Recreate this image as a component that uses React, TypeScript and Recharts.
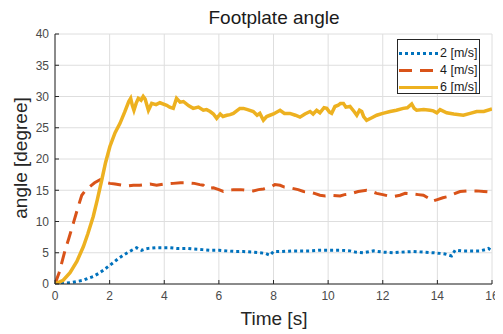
import React from "react";
import { LineChart, Line, XAxis, YAxis, CartesianGrid, Legend, Label } from "recharts";

// time [s] and angle [degree] per speed
const t2 = [0,0.3,0.55,0.8,1.04,1.2,1.4,1.6,1.77,1.95,2.13,2.3,2.5,2.65,2.81,2.99,3.17,3.3,3.42,3.7,3.97,4.2,4.45,4.8,5.06,5.4,5.68,6.0,6.29,6.6,6.9,7.2,7.5,7.7,7.87,8.0,8.3,8.73,9.0,9.34,9.7,9.95,10.2,10.44,10.8,11.0,11.29,11.66,12.0,12.39,12.7,13.12,13.5,13.85,14.1,14.28,14.52,14.65,14.9,15.2,15.56,15.75,15.87,16.0];
const v2 = [0,0.1,0.2,0.4,0.6,0.9,1.2,1.7,2.2,2.8,3.4,4.0,4.6,5.0,5.4,5.8,5.4,5.6,5.7,5.8,5.8,5.8,5.7,5.7,5.6,5.5,5.4,5.4,5.3,5.2,5.2,5.1,5.0,4.9,4.6,5.2,5.2,5.3,5.3,5.3,5.4,5.4,5.4,5.4,5.3,5.1,5.0,5.3,5.1,5.0,5.1,5.2,5.1,5.0,4.9,4.8,4.5,5.4,5.3,5.3,5.3,5.5,5.7,5.3];

const t4 = [0,0.15,0.37,0.5,0.67,0.85,0.98,1.1,1.28,1.45,1.65,1.8,2.01,2.2,2.5,2.7,2.87,3.1,3.3,3.48,3.72,4.0,4.33,4.6,4.82,5.1,5.3,5.43,5.55,5.8,6.0,6.16,6.35,6.53,6.8,7.0,7.26,7.45,7.63,7.9,8.05,8.24,8.4,8.6,8.9,9.1,9.34,9.5,9.7,9.9,10.1,10.44,10.6,10.8,11.1,11.41,11.6,11.78,12.0,12.2,12.39,12.63,12.82,13.1,13.3,13.49,13.65,13.79,14.0,14.2,14.4,14.6,14.83,15.1,15.44,15.7,15.93,16];
const v4 = [0,1.8,5.4,7.2,9.7,12.4,14.2,14.9,15.6,16.2,16.7,16.3,16.1,16,15.8,15.7,15.8,15.8,15.9,16,15.8,16,16.1,16.2,16.2,16.1,15.9,15.8,15.3,15.4,15.1,14.8,15.0,15.1,15.1,15,14.9,15.1,15.2,15.5,15.9,15.8,15.5,15.4,15.1,14.8,14.7,14.5,14.2,14.1,14.2,14.1,14.3,14.4,14.8,15,14.8,14.5,14.3,14.1,14.0,14.2,14.5,14.4,14.3,14.2,13.8,13.2,13.5,13.8,14.0,14.4,14.8,14.9,14.9,14.8,14.7,14.8];

const t6 = [0,0.3,0.55,0.8,1.04,1.2,1.4,1.55,1.71,1.85,2.01,2.2,2.38,2.55,2.7,2.77,2.83,2.89,2.97,3.05,3.15,3.23,3.3,3.38,3.42,3.54,3.7,3.84,4.09,4.2,4.33,4.45,4.58,4.7,4.9,5.06,5.25,5.43,5.55,5.68,5.8,5.92,6.05,6.15,6.29,6.41,6.53,6.77,6.9,7.05,7.26,7.4,7.5,7.63,7.75,7.87,8.0,8.24,8.4,8.6,8.8,8.97,9.15,9.34,9.45,9.58,9.7,9.85,9.95,10.05,10.13,10.25,10.37,10.45,10.56,10.65,10.8,10.95,11.05,11.15,11.23,11.3,11.41,11.6,11.78,12.0,12.27,12.5,12.75,12.9,13.06,13.15,13.24,13.5,13.73,13.85,13.98,14.1,14.34,14.6,14.95,15.2,15.44,15.7,16];
const v6 = [0,0.6,1.8,3.6,6,8,10.8,13.5,16.6,19.4,22,24.2,25.7,27.5,29.2,29.7,28.6,27.8,28.9,29.7,29.4,30,29.6,28.4,27.8,28.9,28.7,29,28.6,28.3,28.1,29.7,29.1,29.2,28.5,28.1,28.3,27.8,27.9,27.6,27.2,26.5,27.2,26.8,27,27.1,27.3,28.1,28.1,27.9,27.6,27,27.3,26.2,26.8,27,27.2,27.8,27.3,27.3,27,26.7,27.2,27.6,27.2,27.8,27.4,28.2,28.1,27.5,27.3,28.4,28.6,28.9,28.9,28.3,28.4,27.6,27,27.8,27.6,26.8,26.2,26.6,27,27.3,27.6,27.8,28.1,28.2,28.8,28.1,27.8,27.9,27.8,27.7,27.4,27.9,27.4,27.2,27,27.3,27.6,27.6,28];

const xTicks = [0,2,4,6,8,10,12,14,16];
const yTicks = [0,5,10,15,20,25,30,35,40];

const toRows = (ts: number[], vs: number[]) => ts.map((t, i) => ({ t, v: vs[i] }));

const series = [
  { name: "2 [m/s]", data: toRows(t2, v2), color: "#0072BD", dash: "3 3", width: 3 },
  { name: "4 [m/s]", data: toRows(t4, v4), color: "#D95319", dash: "13 8", width: 3 },
  { name: "6 [m/s]", data: toRows(t6, v6), color: "#EDB120", dash: undefined as string | undefined, width: 3.5 },
];

const FONT = "'Liberation Sans', Arial, Helvetica, sans-serif";
const TICK = { fill: "#4a4a4a", fontSize: 12, fontFamily: FONT };

const LegendBox = () => (
  <div
    style={{
      border: "1px solid #262626",
      background: "#fff",
      boxSizing: "border-box",
      width: 83,
      height: 55,
      paddingTop: 5,
      fontFamily: FONT,
      fontSize: 12.5,
      color: "#1a1a1a",
      whiteSpace: "nowrap",
      overflow: "hidden",
    }}
  >
    {series.map((s) => (
      <div key={s.name} style={{ display: "flex", alignItems: "center", height: 17 }}>
        <svg width={42} height={17} style={{ display: "block", flex: "none" }}>
          <line x1={1} y1={8.5} x2={40} y2={8.5} stroke={s.color} strokeWidth={3} strokeDasharray={s.dash} />
        </svg>
        <span style={{ lineHeight: "17px" }}>{s.name}</span>
      </div>
    ))}
  </div>
);

export default function App() {
  return (
    <LineChart width={495} height={326} margin={{ top: 26, right: 11, bottom: 10, left: 0 }}>
      <CartesianGrid stroke="#dedede" strokeWidth={1} />
      <XAxis
        type="number"
        dataKey="t"
        domain={[0, 16]}
        ticks={xTicks}
        allowDataOverflow
        height={40}
        stroke="#262626"
        tick={TICK}
        tickSize={-4}
        tickMargin={11}
      >
        <Label
          content={() => (
            <text x={266} y={317} textAnchor="middle" fontSize={19} fontFamily={FONT} fill="#262626">
              Time [s]
            </text>
          )}
        />
      </XAxis>
      <YAxis
        type="number"
        domain={[0, 40]}
        ticks={yTicks}
        allowDataOverflow
        width={47}
        stroke="#262626"
        tick={TICK}
        tickSize={-4}
        tickMargin={10}
      >
        <Label
          content={() => (
            <g>
              <text
                x={19}
                y={150}
                transform="rotate(-90 19 150)"
                textAnchor="middle"
                fontSize={19}
                fontFamily={FONT}
                fill="#262626"
              >
                angle [degree]
              </text>
              <text x={266} y={16} textAnchor="middle" fontSize={19} fontFamily={FONT} fill="#1a1a1a">
                Footplate angle
              </text>
            </g>
          )}
        />
      </YAxis>
      <Legend
        layout="horizontal"
        align="center"
        verticalAlign="middle"
        content={() => <LegendBox />}
        wrapperStyle={{ position: "absolute", left: 389, top: 31, width: 83, height: 55, bottom: "auto", right: "auto" }}
      />
      {series.map((s) => (
        <Line
          key={s.name}
          data={s.data}
          dataKey="v"
          name={s.name}
          type="linear"
          stroke={s.color}
          strokeWidth={s.width}
          strokeDasharray={s.dash}
          dot={false}
          activeDot={false}
          isAnimationActive={false}
        />
      ))}
    </LineChart>
  );
}
